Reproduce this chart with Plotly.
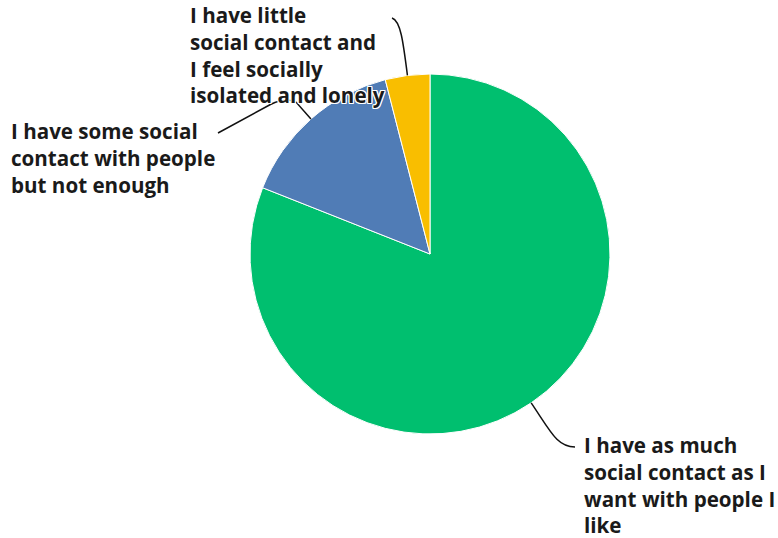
import math
import plotly.graph_objects as go

# Survey answers and their shares (%)
labels = [
    "I have as much<br>social contact as I<br>want with people I<br>like",
    "I have some social<br>contact with people<br>but not enough",
    "I have little<br>social contact and<br>I feel socially<br>isolated and lonely",
]
shares = [81, 15, 4]
colors = ["#00BF6F", "#507CB6", "#F9BE00"]

W, H = 778, 538
cx, cy, r = 430, 254, 180          # pie centre / radius in pixels

# where each label block sits (top-left corner) and where its leader ends
label_pos = [(583, 430), (10, 116), (189, 0)]
leader_end = [(575, 447), (218, 133), (392, 18)]

fig = go.Figure()
fig.add_trace(go.Pie(
    values=shares,
    labels=[l.replace("<br>", " ") for l in labels],
    marker=dict(colors=colors, line=dict(color="white", width=1)),
    sort=False,
    direction="clockwise",
    rotation=0,
    textinfo="none",
    hoverinfo="label+percent",
    showlegend=False,
    domain=dict(x=[(cx - r) / W, (cx + r) / W], y=[(H - cy - r) / H, (H - cy + r) / H]),
))

# leader lines: start on the rim at each slice's mid-angle, bend towards the label
total = sum(shares)
cum = 0
shapes = []
for i, v in enumerate(shares):
    mid = (cum + v / 2) / total * 2 * math.pi
    cum += v
    sx, sy = cx + r * math.sin(mid), cy - r * math.cos(mid)
    ex, ey = leader_end[i]
    ox, oy = math.sin(mid), -math.cos(mid)
    if i == 0:
        c1 = (sx + ox * 35, sy + oy * 35)
        c2 = (ex - 18, ey)
        path = f"M{sx},{sy} C{c1[0]},{c1[1]} {c2[0]},{c2[1]} {ex},{ey}"
    elif i == 1:
        p1 = (sx + ox * 22, sy + oy * 22)
        path = (f"M{sx},{sy} L{p1[0]},{p1[1]} "
                f"Q{p1[0] - 10},{p1[1] - 6} {p1[0] - 26},{p1[1] + 2} L{ex},{ey}")
    else:
        c1 = (sx + ox * 35, sy + oy * 35)
        c2 = (sx + ox * 55, sy + oy * 55)
        path = f"M{sx},{sy} C{c1[0]},{c1[1]} {c2[0]},{c2[1]} {ex},{ey}"
    shapes.append(dict(type="path", path=path, xref="x", yref="y",
                       line=dict(color="#111111", width=1.5), layer="above"))

halo = ", ".join(f"white {dx}px {dy}px 0px" for dx in (-1, 0, 1) for dy in (-1, 0, 1) if dx or dy)
annotations = [
    dict(x=x, y=y, xref="x", yref="y", text=t, showarrow=False,
         xanchor="left", yanchor="top", align="left", borderpad=0,
         font=dict(family="Open Sans", size=20.6, color="#1a1a1a", weight=700, shadow=halo))
    for (x, y), t in zip(label_pos, labels)
]

fig.update_layout(
    width=W, height=H,
    margin=dict(l=0, r=0, t=0, b=0),
    paper_bgcolor="white", plot_bgcolor="white",
    xaxis=dict(range=[0, W], visible=False, fixedrange=True),
    yaxis=dict(range=[H, 0], visible=False, fixedrange=True),
    shapes=shapes,
    annotations=annotations,
)

fig.write_html("out.html")
